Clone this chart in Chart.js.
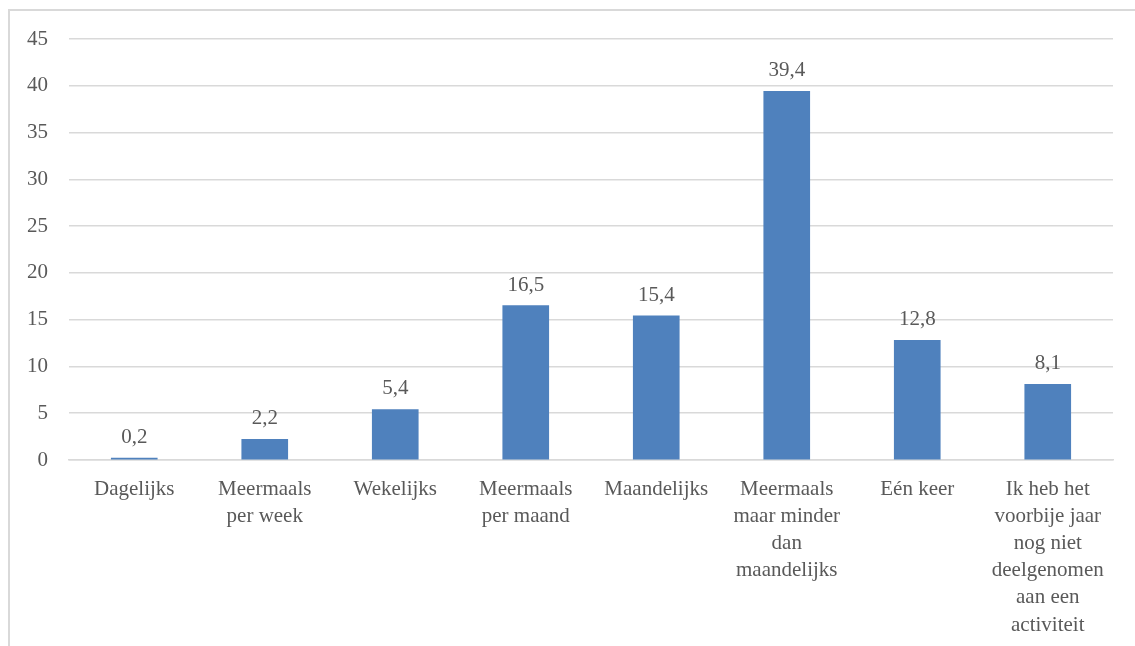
<!DOCTYPE html>
<html>
<head>
<meta charset="utf-8">
<script src="https://cdn.jsdelivr.net/npm/chart.js@4"></script>
<style>
  html, body { margin: 0; padding: 0; background: #fff; overflow: hidden; }
  #frame {
    position: absolute;
    left: 8px;
    top: 9px;
    width: 1140px;
    height: 650px;
    border-left: 2px solid #d9d9d9;
    border-top: 2px solid #d9d9d9;
  }
  #chart { display: block; }
</style>
</head>
<body>
<div id="frame">
  <canvas id="chart" width="1125" height="635"></canvas>
</div>
<script>
// frequency of participation, percentages
const categories = [
  'Dagelijks',
  ['Meermaals', 'per week'],
  'Wekelijks',
  ['Meermaals', 'per maand'],
  'Maandelijks',
  ['Meermaals', 'maar minder', 'dan', 'maandelijks'],
  'Eén keer',
  ['Ik heb het', 'voorbije jaar', 'nog niet', 'deelgenomen', 'aan een', 'activiteit']
];
const percentages = [0.2, 2.2, 5.4, 16.5, 15.4, 39.4, 12.8, 8.1];
const yTicks = [0, 5, 10, 15, 20, 25, 30, 35, 40, 45];

const FONT = "'Liberation Serif', 'Times New Roman', serif";
const TEXT = '#595959';

// writes the value above each bar, Dutch decimal comma
const valueLabels = {
  id: 'valueLabels',
  afterDatasetsDraw(chart) {
    const ctx = chart.ctx;
    const meta = chart.getDatasetMeta(0);
    ctx.save();
    ctx.font = '21px ' + FONT;
    ctx.fillStyle = TEXT;
    ctx.textAlign = 'center';
    ctx.textBaseline = 'alphabetic';
    meta.data.forEach((bar, i) => {
      const txt = percentages[i].toFixed(1).replace('.', ',');
      ctx.fillText(txt, bar.x, bar.y - 15);
    });
    ctx.restore();
  }
};

new Chart(document.getElementById('chart'), {
  type: 'bar',
  data: {
    labels: categories,
    datasets: [{
      data: percentages,
      backgroundColor: '#4f81bd',
      borderWidth: 0,
      barThickness: 46
    }]
  },
  options: {
    responsive: false,
    animation: false,
    layout: { padding: { top: 28, right: 22, bottom: 0, left: 0 } },
    plugins: {
      legend: { display: false },
      tooltip: { enabled: false }
    },
    scales: {
      x: {
        grid: { display: false, drawTicks: false },
        border: { display: true, color: '#d9d9d9', width: 1.5 },
        ticks: {
          color: TEXT,
          font: { family: FONT, size: 21, lineHeight: 1.29 },
          padding: 16,
          maxRotation: 0,
          autoSkip: false
        },
        afterFit(scale) { scale.height = 186; }
      },
      y: {
        min: 0,
        max: 45,
        afterBuildTicks(scale) { scale.ticks = yTicks.map(v => ({ value: v })); },
        grid: { color: '#d9d9d9', lineWidth: 1.5, drawTicks: false },
        border: { display: false },
        ticks: {
          color: TEXT,
          font: { family: FONT, size: 21 },
          padding: 21
        },
        // fixed width; top spacing comes from layout padding only
        afterFit(scale) {
          scale.width = 59;
          scale.paddingTop = 0;
        }
      }
    }
  },
  plugins: [valueLabels]
});
</script>
</body>
</html>
